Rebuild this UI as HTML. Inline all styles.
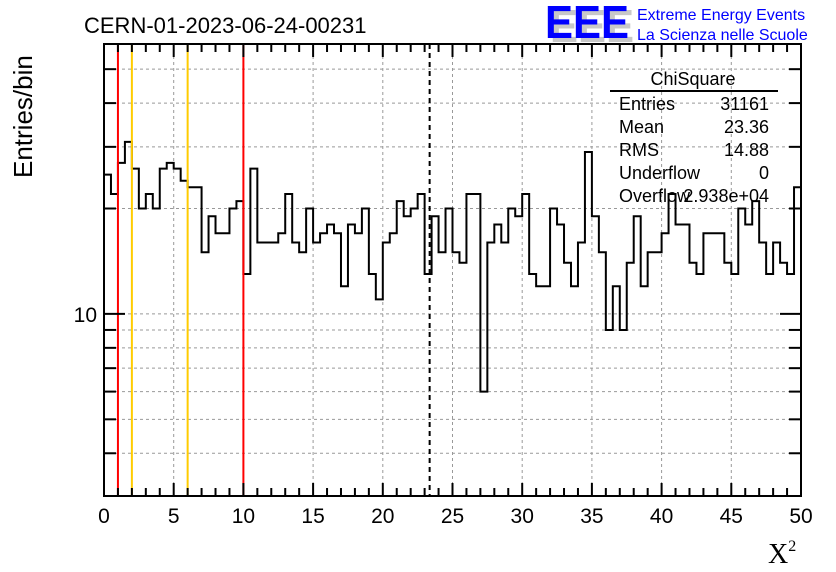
<!DOCTYPE html>
<html><head><meta charset="utf-8"><style>
body{margin:0;background:#fff}
svg{display:block;font-family:"Liberation Sans",sans-serif}
</style></head><body>
<svg id="c" width="836" height="572" viewBox="0 0 836 572">
<rect width="836" height="572" fill="#fff"/>
<text x="84" y="33" font-size="22">CERN-01-2023-06-24-00231</text>
<g>
<text x="550" y="42" font-size="46" font-weight="bold" fill="#c8c8c8" textLength="84" lengthAdjust="spacingAndGlyphs">EEE</text>
<text x="545" y="38" font-size="46" font-weight="bold" fill="#0000ff" textLength="84" lengthAdjust="spacingAndGlyphs">EEE</text>
<text x="637" y="20" font-size="16" fill="#0000ff">Extreme Energy Events</text>
<text x="637" y="40" font-size="16" fill="#0000ff">La Scienza nelle Scuole</text>
</g>
<text transform="translate(32,178) rotate(-90)" font-size="26">Entries/bin</text>
<text x="768" y="563" font-size="28" font-family="Liberation Serif,serif">X<tspan font-size="16" dy="-12">2</tspan></text>
<g id="grid"></g><g id="marks"></g><g id="axes"></g>
<g font-size="18">
<text x="693" y="85" text-anchor="middle">ChiSquare</text>
<line x1="610" y1="91" x2="778" y2="91" stroke="#000" stroke-width="2"/>
<text x="619" y="110">Entries</text><text x="769" y="110" text-anchor="end">31161</text>
<text x="619" y="133">Mean</text><text x="769" y="133" text-anchor="end">23.36</text>
<text x="619" y="156">RMS</text><text x="769" y="156" text-anchor="end">14.88</text>
<text x="619" y="179">Underflow</text><text x="769" y="179" text-anchor="end">0</text>
<text x="619" y="202">Overflow</text><text x="769" y="202" text-anchor="end">2.938e+04</text>
</g>
</svg>
<script>
const binValues=[25,22,27,31,26,20,22,20,26,27,26,24,23,23,15,19,17,17,20,21,13,26,16,16,16,17,22,16,15,20,16,17,18,17,12,18,17,20,13,11,16,17,21,19,20,22,13,19,15,20,15,14,22,22,6,16,18,16,20,19,22,13,12,12,20,18,14,12,16,29,19,15,9,12,9,14,19,12,15,15,17,22,18,18,14,13,17,17,17,14,13,20,18,21,16,13,16,14,13,23];
const xTicks=[0,5,10,15,20,25,30,35,40,45,50];
const yGrid=[4,5,6,7,8,9,10,20,30,40,50];
const redLines=[1,10];
const orangeLines=[2,6];
const meanValue=23.36;
const X0=104,X1=801,Y0=44,Y1=496,XMIN=0,XMAX=50,YMIN=3.02,YMAX=59;
const NS='http://www.w3.org/2000/svg';
const sx=v=>X0+(v-XMIN)/(XMAX-XMIN)*(X1-X0);
const sy=v=>Y1-(Math.log(v)-Math.log(YMIN))/(Math.log(YMAX)-Math.log(YMIN))*(Y1-Y0);
function mk(t,a,p){const e=document.createElementNS(NS,t);for(const k in a)e.setAttribute(k,a[k]);p.appendChild(e);return e;}
const grid=document.getElementById('grid'),marks=document.getElementById('marks'),axes=document.getElementById('axes');
xTicks.forEach(v=>{const l=mk('line',{x1:sx(v),x2:sx(v),y1:Y0,y2:Y1,stroke:'#999','stroke-dasharray':'3,3'},grid);

});
yGrid.forEach(v=>{const l=mk('line',{x1:X0,x2:X1,y1:sy(v),y2:sy(v),stroke:'#999','stroke-dasharray':'3,3'},grid);

});
// histogram
const bw=(XMAX-XMIN)/binValues.length;
let d='M'+sx(0)+','+sy(binValues[0]);
binValues.forEach((v,i)=>{d+=' L'+sx(i*bw)+','+sy(v)+' L'+sx((i+1)*bw)+','+sy(v);});
const h=mk('path',{d:d,fill:'none',stroke:'#000','stroke-width':2},marks);


redLines.forEach(v=>{const l=mk('line',{x1:sx(v),x2:sx(v),y1:Y0,y2:Y1,stroke:'#ff0000','stroke-width':2},marks);

});
orangeLines.forEach(v=>{const l=mk('line',{x1:sx(v),x2:sx(v),y1:Y0,y2:Y1,stroke:'#ffcc00','stroke-width':2},marks);

});
const ml=mk('line',{x1:sx(meanValue),x2:sx(meanValue),y1:Y0,y2:Y1,stroke:'#000','stroke-width':2,'stroke-dasharray':'5,4'},marks);


// frame
const fr=mk('rect',{x:X0,y:Y0,width:X1-X0,height:Y1-Y0,fill:'none',stroke:'#000','stroke-width':2},axes);


for(let v=0;v<=50;v++){const L=v%5===0?13:8;
mk('line',{x1:sx(v),x2:sx(v),y1:Y1,y2:Y1-L,stroke:'#000','stroke-width':2},axes);
mk('line',{x1:sx(v),x2:sx(v),y1:Y0,y2:Y0+L,stroke:'#000','stroke-width':2},axes);}
xTicks.forEach(v=>{const t=mk('text',{x:sx(v),y:523,'font-size':21,'text-anchor':'middle'},axes);t.textContent=v;

});
yGrid.forEach(v=>{const L=v===10?21:12;
mk('line',{x1:X0,x2:X0+L,y1:sy(v),y2:sy(v),stroke:'#000','stroke-width':2},axes);
mk('line',{x1:X1,x2:X1-L,y1:sy(v),y2:sy(v),stroke:'#000','stroke-width':2},axes);});
const yl=mk('text',{x:97,y:sy(10)+8,'font-size':21,'text-anchor':'end'},axes);yl.textContent='10';


</script>
</body></html>
